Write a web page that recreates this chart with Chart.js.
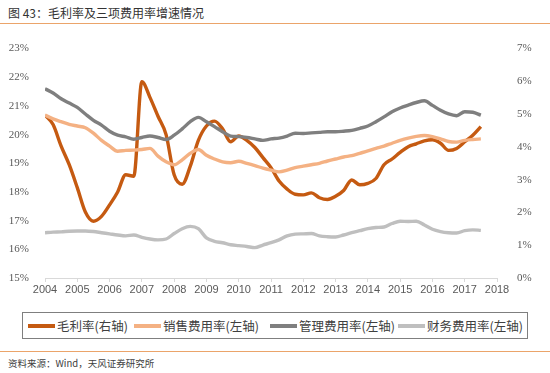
<!DOCTYPE html>
<html>
<head>
<meta charset="utf-8">
<script src="https://cdn.jsdelivr.net/npm/chart.js@4/dist/chart.umd.min.js"></script>
<style>
  body { margin: 0; width: 550px; height: 373px; background: #fff; position: relative; overflow: hidden;
         font-family: "Noto Sans CJK SC", "Liberation Sans", sans-serif; }
  #title { position: absolute; left: 8px; top: 4px; font-size: 12px; color: #333; }
  .rule { position: absolute; left: 0; width: 550px; height: 1px; background: #eba46a; }
  #wrap { position: absolute; left: 0; top: 30px; width: 550px; height: 275px; }
  #legend { position: absolute; left: 22px; top: 312px; width: 504px; height: 25px; border: 1px solid #7f7f7f;
            font-size: 12.5px; color: #404040; }
  .item { position: absolute; top: 0; height: 25px; display: flex; align-items: center; white-space: nowrap; }
  .swatch { width: 27px; height: 4px; margin-right: 2px; }
  #source { position: absolute; left: 8px; top: 356px; font-size: 9.5px; color: #404040; }
</style>
</head>
<body>
<div id="title">图 43：毛利率及三项费用率增速情况</div>
<div class="rule" style="top:23px"></div>
<div id="wrap"><canvas id="chart"></canvas></div>
<div id="legend"></div>
<div class="rule" style="top:351px"></div>
<div id="source">资料来源：Wind，天风证券研究所</div>
<script>
// 季度时间点
const quarters = [
  2004.0, 2004.25, 2004.5, 2004.75, 2005.0, 2005.25, 2005.5, 2005.75,
  2006.0, 2006.25, 2006.5, 2006.75, 2007.0, 2007.25, 2007.5, 2007.75,
  2008.0, 2008.25, 2008.5, 2008.75, 2009.0, 2009.25, 2009.5, 2009.75,
  2010.0, 2010.25, 2010.5, 2010.75, 2011.0, 2011.25, 2011.5, 2011.75,
  2012.0, 2012.25, 2012.5, 2012.75, 2013.0, 2013.25, 2013.5, 2013.75,
  2014.0, 2014.25, 2014.5, 2014.75, 2015.0, 2015.25, 2015.5, 2015.75,
  2016.0, 2016.25, 2016.5, 2016.75, 2017.0, 2017.25, 2017.5
];

const seriesNames = ["毛利率(右轴)", "销售费用率(左轴)", "管理费用率(左轴)", "财务费用率(左轴)"];

const grossMargin = [
  20.68, 20.35, 19.6, 18.95, 18.15, 17.3, 16.98, 17.15,
  17.55, 18.0, 18.6, 18.55, 21.85, 21.3, 20.64, 20.0,
  18.6, 18.27, 18.9, 19.8, 20.3, 20.47, 20.2, 19.75,
  19.95, 19.8, 19.55, 19.2, 18.85, 18.38, 18.1, 17.92,
  17.9, 17.97, 17.8, 17.74, 17.85, 18.05, 18.42, 18.25,
  18.3, 18.47, 18.95, 19.15, 19.38, 19.58, 19.68, 19.78,
  19.82, 19.7, 19.45, 19.52, 19.75, 19.98, 20.28
];

const sellingRate = [
  20.68, 20.55, 20.45, 20.36, 20.3, 20.24, 20.05, 19.8,
  19.6, 19.42, 19.45, 19.46, 19.48, 19.52, 19.25, 19.05,
  18.95, 19.12, 19.35, 19.48, 19.28, 19.15, 19.05, 19.02,
  19.07, 19.0, 18.92, 18.83, 18.76, 18.7, 18.76, 18.85,
  18.9, 18.95, 19.0, 19.08, 19.15, 19.22, 19.27, 19.35,
  19.43, 19.52, 19.6, 19.7, 19.8, 19.88, 19.94, 19.97,
  19.93, 19.85, 19.76, 19.74, 19.8, 19.83, 19.85
];

const adminRate = [
  21.6, 21.45, 21.25, 21.1, 20.95, 20.72, 20.5, 20.33,
  20.12, 19.98, 19.92, 19.84, 19.9, 19.95, 19.9, 19.83,
  19.98, 20.2, 20.45, 20.6, 20.45, 20.28, 20.1, 19.95,
  19.93, 19.9, 19.85, 19.8, 19.85, 19.88, 19.95, 20.05,
  20.04, 20.06, 20.08, 20.1, 20.1, 20.12, 20.15, 20.22,
  20.3, 20.45, 20.62, 20.8, 20.93, 21.03, 21.12, 21.18,
  21.02, 20.85, 20.72, 20.66, 20.8, 20.78, 20.68
];

const financeRate = [
  16.58, 16.6, 16.61, 16.63, 16.64, 16.64, 16.62, 16.58,
  16.54, 16.5, 16.47, 16.5, 16.42, 16.36, 16.33, 16.36,
  16.55, 16.72, 16.8, 16.72, 16.4, 16.28, 16.23, 16.16,
  16.13, 16.1, 16.06, 16.15, 16.23, 16.33, 16.47, 16.53,
  16.54, 16.55, 16.47, 16.44, 16.43, 16.5, 16.58, 16.65,
  16.72, 16.76, 16.78, 16.9, 16.98, 16.97, 16.98, 16.85,
  16.7, 16.62, 16.58, 16.57, 16.65, 16.68, 16.66
];

const colors = ["#c55a11", "#f4b183", "#7f7f7f", "#bfbfbf"];
const allSeries = [grossMargin, sellingRate, adminRate, financeRate];

const leftTicks = [15, 16, 17, 18, 19, 20, 21, 22, 23];
const rightTicks = [0, 1, 2, 3, 4, 5, 6, 7];
const yearTicks = [2004, 2005, 2006, 2007, 2008, 2009, 2010, 2011, 2012, 2013, 2014, 2015, 2016, 2017, 2018];

const tickFont = { family: "Liberation Sans Narrow", size: 11 };

// 图例（位置按原图）
const legendLeft = [5, 111, 247, 375];
const legendEl = document.getElementById("legend");
seriesNames.forEach((name, i) => {
  const item = document.createElement("div");
  item.className = "item";
  item.style.left = legendLeft[i] + "px";
  item.innerHTML = `<span class="swatch" style="background:${colors[i]}"></span>${name}`;
  legendEl.appendChild(item);
});

new Chart(document.getElementById("chart"), {
  type: "line",
  data: {
    datasets: allSeries.map((vals, i) => ({
      label: seriesNames[i],
      data: vals.map((v, k) => ({ x: quarters[k], y: v })),
      borderColor: colors[i],
      borderWidth: 3.4,
      pointRadius: 0,
      cubicInterpolationMode: "monotone",
      yAxisID: "y",
      order: 4 - i
    }))
  },
  options: {
    responsive: true,
    maintainAspectRatio: false,
    animation: false,
    layout: { padding: { top: 14, bottom: 0, left: 0, right: 0 } },
    plugins: { legend: { display: false }, tooltip: { enabled: false } },
    scales: {
      x: {
        type: "linear",
        min: 2004, max: 2018,
        afterBuildTicks: s => { s.ticks = yearTicks.map(v => ({ value: v })); },
        ticks: { color: "#595959", font: { family: "Liberation Sans", size: 11 }, padding: 1, maxRotation: 0,
                 autoSkip: false, callback: v => String(v) },
        grid: { drawOnChartArea: false, tickLength: 4, color: "#d9d9d9" },
        border: { color: "#d9d9d9" },
        afterFit: s => { s.height = 27; }
      },
      y: {
        position: "left",
        min: 15, max: 23,
        afterBuildTicks: s => { s.ticks = leftTicks.map(v => ({ value: v })); },
        ticks: { color: "#595959", font: tickFont, padding: 8, callback: v => v + "%" },
        grid: { display: false },
        border: { display: false },
        afterFit: s => { s.width = 45; }
      },
      y2: {
        position: "right",
        min: 0, max: 7,
        afterBuildTicks: s => { s.ticks = rightTicks.map(v => ({ value: v })); },
        ticks: { color: "#595959", font: tickFont, padding: 12, callback: v => v + "%" },
        grid: { display: false },
        border: { display: false },
        afterFit: s => { s.width = 53; }
      }
    }
  }
});
</script>
</body>
</html>
